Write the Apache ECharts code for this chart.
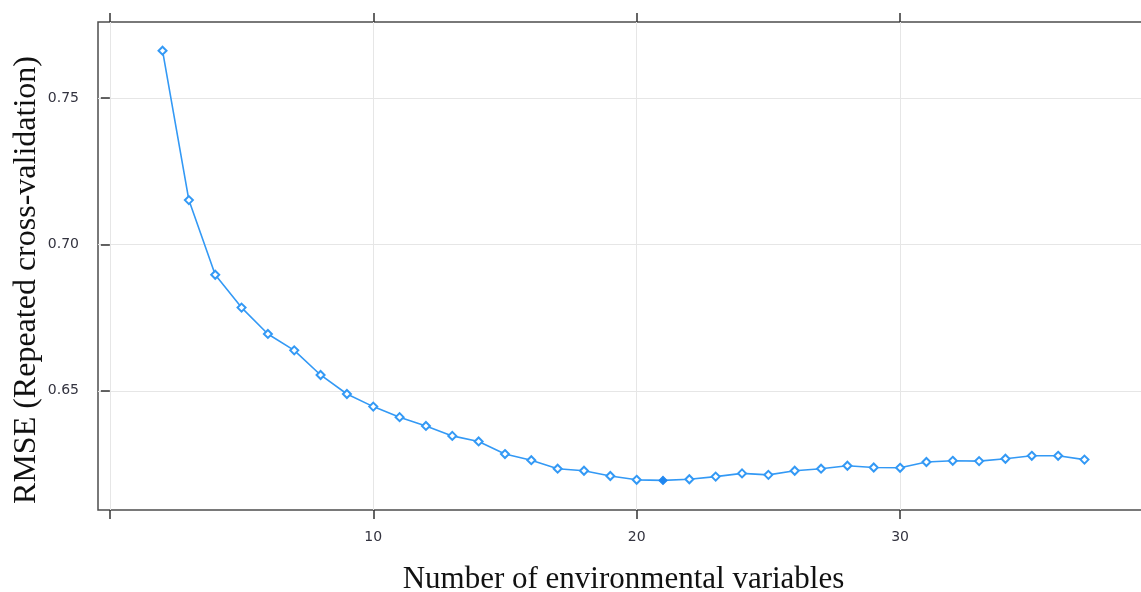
<!DOCTYPE html>
<html>
<head>
<meta charset="utf-8">
<title>RMSE vs number of variables</title>
<script src="https://cdn.jsdelivr.net/npm/echarts@6/dist/echarts.min.js"></script>
<style>
html, body { margin: 0; padding: 0; background: #ffffff; }
#chart { width: 1141px; height: 592px; }
</style>
</head>
<body>
<div id="chart"></div>
<script>
// number of environmental variables
var nVars = [2, 3, 4, 5, 6, 7, 8, 9, 10, 11, 12, 13, 14, 15, 16, 17, 18, 19,
  20, 21, 22, 23, 24, 25, 26, 27, 28, 29, 30, 31, 32, 33, 34, 35, 36, 37]
// RMSE (repeated cross-validation)
var rmse = [0.7661, 0.7151, 0.6896, 0.6784, 0.6694, 0.6638, 0.6554, 0.6489, 0.6446,
  0.6410, 0.6380, 0.6346, 0.6327, 0.6284, 0.6263, 0.6234, 0.6227, 0.6209,
  0.6196, 0.6194, 0.6198, 0.6207, 0.6218, 0.6213, 0.6227, 0.6234, 0.6244,
  0.6238, 0.6237, 0.6257, 0.6261, 0.6260, 0.6268, 0.6278, 0.6278, 0.6265]
var xTicks = [0, 10, 20, 30]
var xLabels = [10, 20, 30]
var yTicks = [0.65, 0.70, 0.75]

var lineColor = '#3399f5'
var labelColor = '#33333f'
var best = rmse.indexOf(Math.min.apply(null, rmse))

var points = []
for (var i = 0; i < nVars.length; i++) {
  var p = { value: [nVars[i], rmse[i]] }
  if (i === best) {
    p.symbol = 'diamond'
    p.itemStyle = { color: '#1f86f0', borderColor: '#1f86f0' }
  }
  points.push(p)
}

var chart = echarts.init(document.getElementById('chart'))
chart.setOption({
  backgroundColor: '#ffffff',
  animation: false,
  grid: {
    left: 98,
    right: -8,
    top: 22,
    bottom: 82,
    outerBoundsMode: 'none',
    containLabel: false,
    show: true,
    borderColor: '#4d4d4d',
    borderWidth: 1.5,
    backgroundColor: 'transparent'
  },
  graphic: [{
    type: 'text',
    x: 27,
    y: 280,
    rotation: Math.PI / 2,
    style: {
      text: 'RMSE (Repeated cross-validation)',
      fontFamily: 'Liberation Serif',
      fontSize: 32,
      fill: '#111111',
      align: 'center',
      verticalAlign: 'middle'
    }
  }],
  xAxis: [{
    type: 'value',
    position: 'bottom',
    min: -0.45,
    max: 39.45,
    name: 'Number of environmental variables',
    nameLocation: 'middle',
    nameGap: 54,
    nameTextStyle: {
      fontFamily: 'Liberation Serif',
      fontSize: 31,
      color: '#111111'
    },
    axisLine: { show: false },
    axisTick: {
      show: true,
      inside: false,
      length: 9,
      customValues: xTicks,
      lineStyle: { color: '#333333', width: 1.5 }
    },
    axisLabel: {
      customValues: xLabels,
      margin: 20,
      fontFamily: 'DejaVu Sans',
      fontSize: 14,
      color: labelColor
    },
    splitLine: { show: true, lineStyle: { color: '#e6e6e6', width: 1 } }
  }, {
    type: 'value',
    position: 'top',
    min: -0.45,
    max: 39.45,
    axisLine: { show: false },
    axisTick: {
      show: true,
      inside: false,
      length: 9,
      customValues: xTicks,
      lineStyle: { color: '#333333', width: 1.5 }
    },
    axisLabel: { show: false },
    splitLine: { show: false }
  }],
  yAxis: {
    type: 'value',
    min: 0.6093,
    max: 0.7759,
    axisLine: { show: false },
    axisTick: {
      show: true,
      inside: false,
      length: 9,
      customValues: yTicks,
      lineStyle: { color: '#333333', width: 1.5 }
    },
    axisLabel: {
      customValues: yTicks,
      margin: 19,
      fontFamily: 'DejaVu Sans',
      fontSize: 14,
      color: labelColor,
      formatter: function (v) { return v.toFixed(2) }
    },
    splitLine: { show: true, lineStyle: { color: '#e6e6e6', width: 1 } }
  },
  series: [{
    type: 'line',
    xAxisIndex: 0,
    data: points,
    symbol: 'emptyDiamond',
    symbolSize: 8,
    showAllSymbol: true,
    lineStyle: { color: lineColor, width: 1.6 },
    itemStyle: { color: lineColor, borderColor: lineColor, borderWidth: 1.2 }
  }]
})
</script>
</body>
</html>
